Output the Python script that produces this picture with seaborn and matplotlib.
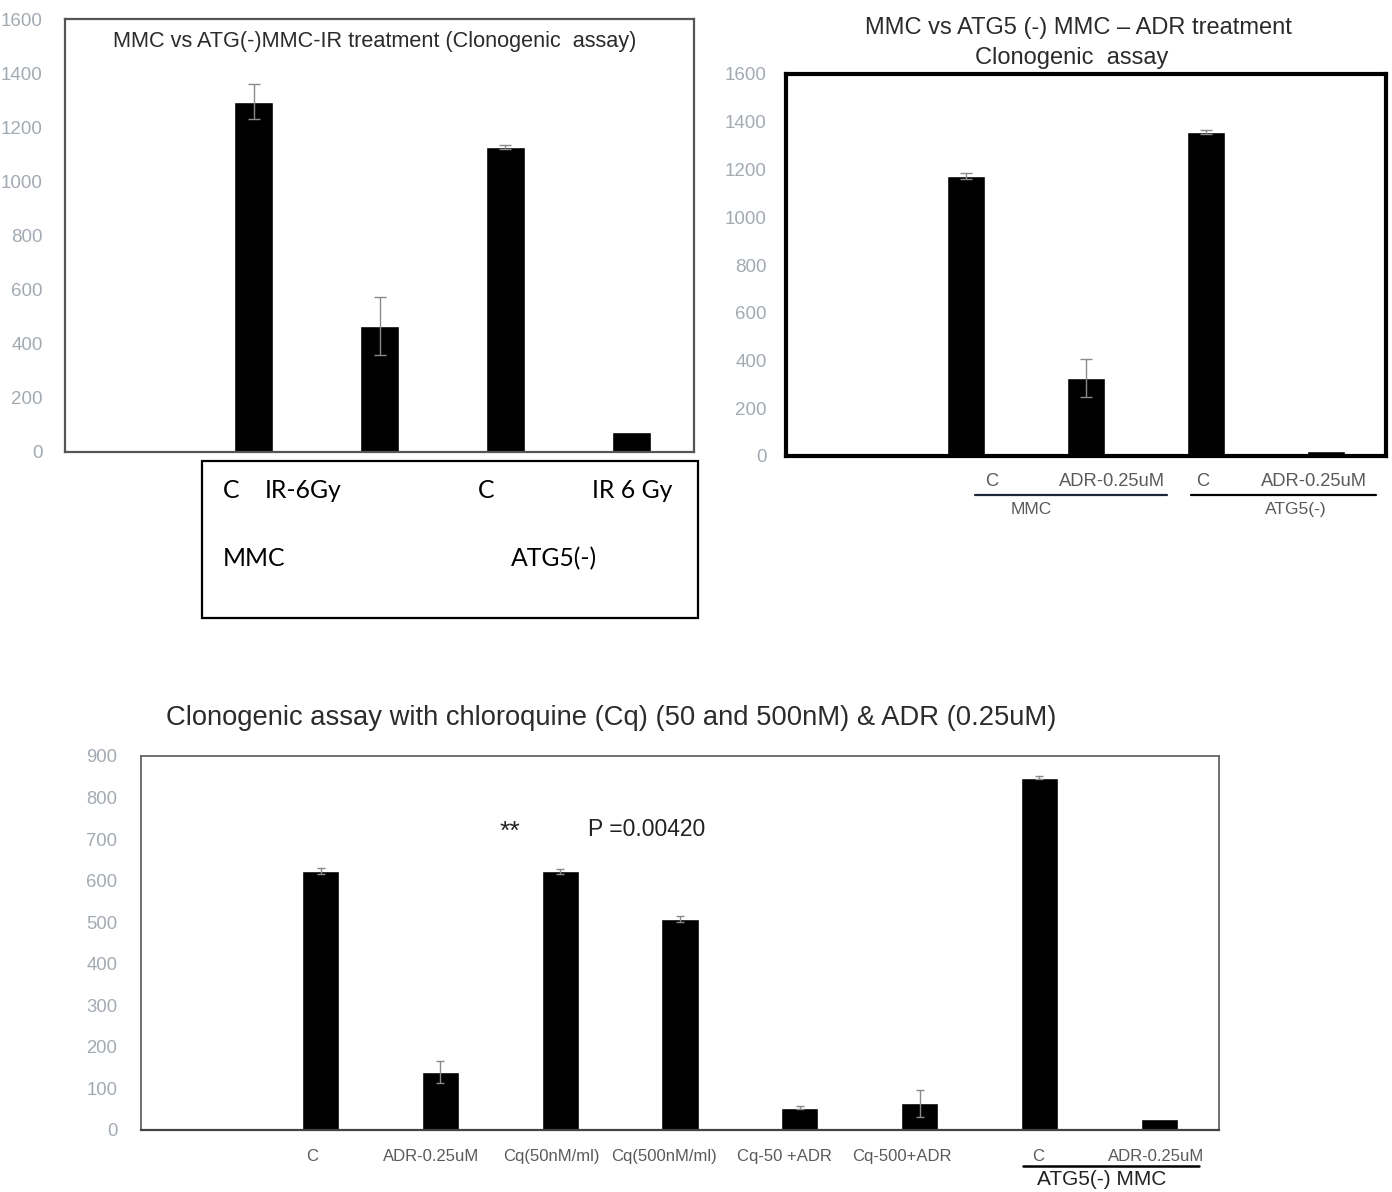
import numpy as np
import pandas as pd
import matplotlib
matplotlib.use("Agg")
import matplotlib.pyplot as plt
import matplotlib.font_manager as fm
from matplotlib.patches import Rectangle
from matplotlib.lines import Line2D
import seaborn as sns

# ---------------- data ----------------
tl_keys = ["MMC C", "MMC IR-6Gy", "ATG5(-) C", "ATG5(-) IR 6 Gy"]
tl_values = [1295, 465, 1127, 74]
tl_errors = [66, 106, 6, 0]

tr_keys = ["MMC C", "MMC ADR-0.25uM", "ATG5(-) C", "ATG5(-) ADR-0.25uM"]
tr_values = [1173, 328, 1358, 22]
tr_errors = [14, 80, 8, 0]
tr_ticklabels = ["C", "ADR-0.25uM", "C", "ADR-0.25uM"]

b_keys = ["C", "ADR", "Cq50", "Cq500", "Cq50ADR", "Cq500ADR", "ATG5 C", "ATG5 ADR"]
b_values = [623, 140, 623, 508, 54, 64, 848, 26]
b_errors = [7, 27, 6, 7, 3, 32, 3, 0]
b_ticklabels = ["C", "ADR-0.25uM", "Cq(50nM/ml)", "Cq(500nM/ml)", "Cq-50 +ADR",
                "Cq-500+ADR", "C", "ADR-0.25uM"]

# ---------------- style ----------------
sns.set_theme(style="white")
names = {f.name for f in fm.fontManager.ttflist}
NARROW = "Liberation Sans Narrow" if "Liberation Sans Narrow" in names else "Liberation Sans"
plt.rcParams["font.family"] = [NARROW, "DejaVu Sans"]
BOXFONT = ["Lato", "Open Sans", "DejaVu Sans"]
TICKGRAY = "#a3aab2"
LABGRAY = "#5a5a5a"
ERRGRAY = "#8a8a8a"

fig = plt.figure(figsize=(13.92, 11.92), dpi=100)
W, H = 1392, 1192


def px_axes(l, t, r, b):
    return fig.add_axes([l / W, 1 - b / H, (r - l) / W, (b - t) / H])


def draw_bars(ax, keys, values, errors, capsize):
    df = pd.DataFrame({"k": keys, "v": values})
    sns.barplot(data=df, x="k", y="v", order=keys, color="black", saturation=1,
                width=0.31, errorbar=None, ax=ax)
    err = np.array(errors, dtype=float)
    pos = np.arange(len(keys))
    m = err > 0
    ax.errorbar(pos[m], np.array(values)[m], yerr=err[m], fmt="none",
                ecolor=ERRGRAY, elinewidth=1.0, capsize=capsize, capthick=1.0, zorder=3)
    ax.set_xlabel("")
    ax.set_ylabel("")


# ---------------- top-left ----------------
ax1 = px_axes(65, 19, 694, 452)
draw_bars(ax1, tl_keys, tl_values, tl_errors, 4)
ax1.set_xlim(-1.5, 3.5)
ax1.set_ylim(0, 1600)
ax1.set_yticks(np.arange(0, 1601, 200))
ax1.set_xticks([])
ax1.tick_params(axis="y", length=0, pad=16, labelsize=13.5, labelcolor=TICKGRAY)
for s in ax1.spines.values():
    s.set_color("#555555")
    s.set_linewidth(1.6)
ax1.text(0.493, 0.947, "MMC vs ATG(-)MMC-IR treatment (Clonogenic  assay)",
         transform=ax1.transAxes, ha="center", va="center", fontsize=15.6, color="#2b2b2b")

# box with group labels
fig.add_artist(Rectangle((202 / W, 1 - 618 / H), 496 / W, 157 / H, transform=fig.transFigure,
                         fill=False, ec="black", lw=1.6))
for txt, x, y in [("C", 223, 491), ("IR-6Gy", 265, 491), ("C", 478, 491),
                  ("IR 6 Gy", 592, 491), ("MMC", 223, 559), ("ATG5(-)", 511, 559)]:
    fig.text(x / W, 1 - y / H, txt, ha="left", va="center", fontsize=17.8,
             family=BOXFONT, color="black")

# ---------------- top-right ----------------
ax2 = px_axes(786, 74, 1386, 456)
draw_bars(ax2, tr_keys, tr_values, tr_errors, 4)
ax2.set_xlim(-1.5, 3.5)
ax2.set_ylim(0, 1600)
ax2.set_yticks(np.arange(0, 1601, 200))
ax2.set_xticks([])
ax2.tick_params(axis="y", length=0, pad=14, labelsize=13.5, labelcolor=TICKGRAY)
for s in ax2.spines.values():
    s.set_color("black")
    s.set_linewidth(3)
fig.text(1078 / W, 1 - 28 / H, "MMC vs ATG5 (-) MMC \u2013 ADR treatment",
         ha="center", va="center", fontsize=17, color="#2b2b2b")
fig.text(1072 / W, 1 - 58 / H, "Clonogenic  assay",
         ha="center", va="center", fontsize=17, color="#2b2b2b")
tr_xoff = [0.21, 0.22, -0.03, -0.10]
for i, (lab, off) in enumerate(zip(tr_ticklabels, tr_xoff)):
    ax2.text(i + off, -0.068, lab, transform=ax2.get_xaxis_transform(), ha="center",
             va="center", fontsize=13.2, color=LABGRAY, clip_on=False)
for x0, x1, col in [(0.075, 1.675, "#1c2738"), (1.875, 3.42, "black")]:
    ax2.add_line(Line2D([x0, x1], [-0.103, -0.103], transform=ax2.get_xaxis_transform(),
                        color=col, lw=1.6, clip_on=False))
ax2.text(0.54, -0.139, "MMC", transform=ax2.get_xaxis_transform(), ha="center",
         va="center", fontsize=12.5, color=LABGRAY, clip_on=False)
ax2.text(2.75, -0.139, "ATG5(-)", transform=ax2.get_xaxis_transform(), ha="center",
         va="center", fontsize=12.5, color=LABGRAY, clip_on=False)

# ---------------- bottom ----------------
ax3 = px_axes(141, 756, 1219, 1130)
draw_bars(ax3, b_keys, b_values, b_errors, 3)
ax3.set_xlim(-1.5, 7.5)
ax3.set_ylim(0, 900)
ax3.set_yticks(np.arange(0, 901, 100))
ax3.set_xticks([])
ax3.tick_params(axis="y", length=0, pad=17, labelsize=13.3, labelcolor=TICKGRAY)
for s in ax3.spines.values():
    s.set_color("#666666")
    s.set_linewidth(1.3)
ax3.spines["bottom"].set_color("#444444")
ax3.spines["bottom"].set_linewidth(1.6)
fig.text(611 / W, 1 - 718 / H,
         "Clonogenic assay with chloroquine (Cq) (50 and 500nM) & ADR (0.25uM)",
         ha="center", va="center", fontsize=19.7, color="#2b2b2b")
b_xoff = [-0.075, -0.08, -0.07, -0.13, -0.13, -0.15, -0.01, -0.025]
for i, (lab, off) in enumerate(zip(b_ticklabels, b_xoff)):
    ax3.text(i + off, -0.072, lab, transform=ax3.get_xaxis_transform(), ha="center",
             va="center", fontsize=12, color=LABGRAY, clip_on=False)
ax3.add_line(Line2D([5.86, 7.33], [-0.097, -0.097], transform=ax3.get_xaxis_transform(),
                    color="black", lw=1.8, clip_on=False))
ax3.text(6.52, -0.132, "ATG5(-) MMC", transform=ax3.get_xaxis_transform(), ha="center",
         va="center", fontsize=15, color="#222222", clip_on=False)
ax3.text(1.58, 717, "**", ha="center", va="center", fontsize=19, color="#222222")
ax3.text(2.72, 722, "P =0.00420", ha="center", va="center", fontsize=16.5, color="#222222")

fig.savefig("out.png", dpi=100)
